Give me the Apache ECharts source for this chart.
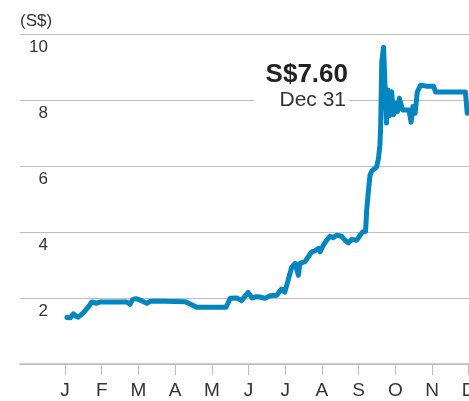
<!DOCTYPE html>
<html>
<head>
<meta charset="utf-8">
<script src="https://cdn.jsdelivr.net/npm/echarts@6/dist/echarts.min.js"></script>
<style>
html,body{margin:0;padding:0;background:#fff;}
#chart{width:469px;height:401px;}
</style>
</head>
<body>
<div id="chart"></div>
<script>
// Month tick labels (value 0 = January tick)
var monthLabels = ["J","F","M","A","M","J","J","A","S","O","N","D"];
var monthTicks = [0,1,2,3,4,5,6,7,8,9,10,11];
// Time position in months (0 = January tick) and share price (S$)
var dates = [0.05,0.14,0.23,0.30,0.36,0.50,0.63,0.73,0.86,0.95,1.23,1.68,1.77,1.85,1.93,2.04,2.23,2.32,2.72,3.27,3.41,3.59,4.39,4.50,4.68,4.81,4.99,5.10,5.22,5.31,5.45,5.59,5.77,5.90,5.99,6.08,6.18,6.27,6.36,6.40,6.54,6.63,6.72,6.81,6.90,6.95,7.04,7.13,7.22,7.31,7.40,7.45,7.54,7.63,7.72,7.81,7.95,8.02,8.11,8.19,8.22,8.26,8.31,8.36,8.49,8.54,8.58,8.60,8.63,8.68,8.73,8.76,8.80,8.84,8.90,8.95,9.01,9.06,9.11,9.20,9.37,9.43,9.48,9.54,9.60,9.69,9.73,9.84,10.04,10.10,10.91,10.96];
var prices = [1.41,1.40,1.52,1.45,1.42,1.55,1.72,1.88,1.84,1.88,1.88,1.88,1.81,1.96,1.98,1.94,1.84,1.90,1.90,1.89,1.82,1.72,1.72,1.99,2.00,1.92,2.17,2.00,2.04,2.03,1.99,2.07,2.08,2.27,2.18,2.54,2.94,3.05,2.69,3.05,3.10,3.25,3.40,3.43,3.50,3.40,3.60,3.75,3.87,3.83,3.90,3.95,3.87,3.75,3.67,3.77,3.75,3.87,4.00,4.02,4.66,5.16,5.72,5.85,5.97,6.22,6.63,7.15,9.15,9.60,9.55,7.30,8.30,7.53,8.25,7.55,7.90,7.65,8.05,7.70,7.70,7.33,7.80,7.60,8.25,8.45,8.49,8.42,8.42,8.24,8.24,7.60];
var yTicks = [0,2,4,6,8,10];
var unitLabel = "(S$)";
var lastPriceLabel = "S$7.60";
var lastDateLabel = "Dec 31";

var seriesData = dates.map(function(d,i){return [d, prices[i]];});

var chart = echarts.init(document.getElementById('chart'), null, {renderer:'canvas'});
var FONT = '"Liberation Sans", Arial, sans-serif';
chart.setOption({
  animation:false,
  backgroundColor:'#fff',
  grid:{left:20, right:0, top:34, bottom:37, containLabel:false, outerBoundsMode:'none'},
  xAxis:{
    type:'value', min:-1.226, max:11.008,
    axisLine:{show:true, onZero:false, lineStyle:{color:'#bdbdbd', width:1.5}},
    axisTick:{show:true, customValues:monthTicks, length:11, lineStyle:{color:'#bdbdbd', width:1}},
    axisLabel:{show:true, customValues:monthTicks, margin:17, color:'#333', fontSize:19, fontFamily:FONT,
      hideOverlap:false,
      formatter:function(v){return monthLabels[Math.round(v)];}},
    splitLine:{show:false}
  },
  yAxis:{
    type:'value', min:0, max:10, interval:2,
    axisLine:{show:false}, axisTick:{show:false},
    axisLabel:{show:true, inside:false, margin:-28, align:'right', verticalAlign:'top', padding:[5,0,0,0],
      color:'#333', fontSize:17, fontFamily:FONT,
      formatter:function(v){return v===0?'':String(v);}},
    splitLine:{show:true, lineStyle:{color:'#bdbdbd', width:1}}
  },
  graphic:[
    {type:'text', left:20, top:13, style:{text:unitLabel, font:'17px '+FONT, fill:'#333'}},
    {type:'rect', left:254, top:94, shape:{width:95, height:12}, style:{fill:'#fff'}, z:10},
    {type:'text', right:121, top:62, z:11, style:{text:lastPriceLabel, font:'bold 26px '+FONT, fill:'#222'}},
    {type:'text', right:123, top:90, z:11, style:{text:lastDateLabel, font:'21px '+FONT, fill:'#333'}}
  ],
  series:[{
    type:'line', data:seriesData, showSymbol:false, symbol:'none',
    lineStyle:{color:'#0386bf', width:5, join:'round', cap:'round'},
    z:5
  }]
});
</script>
</body>
</html>
